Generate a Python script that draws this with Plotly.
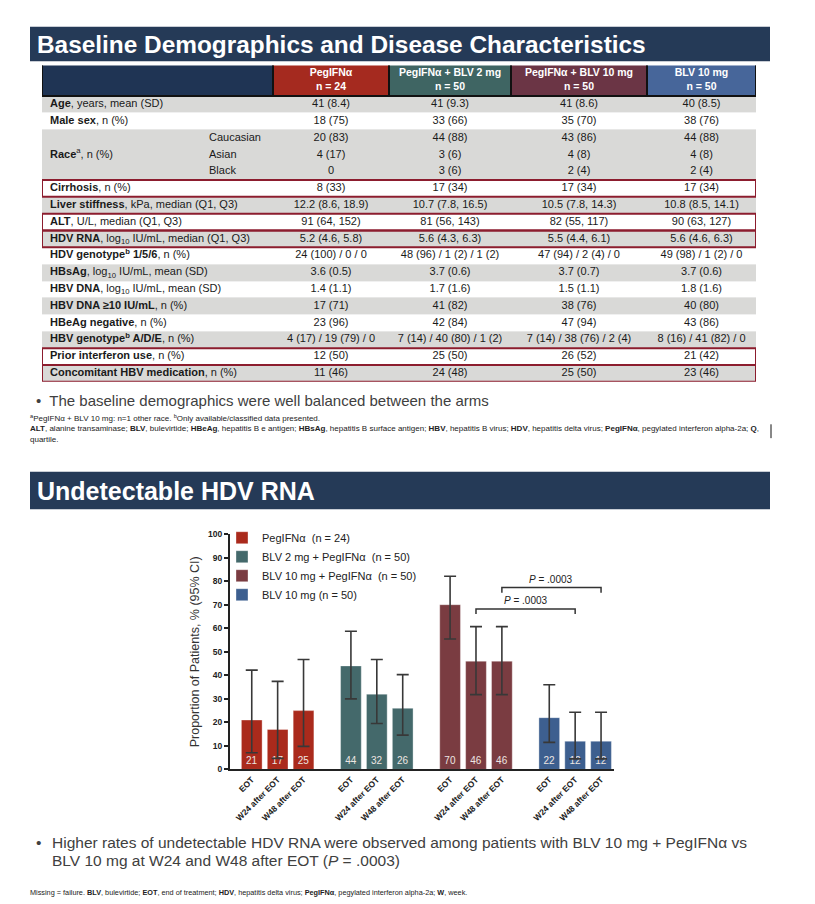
import plotly.graph_objects as go

W, H = 815, 904
FONT = "Liberation Sans, Arial, Helvetica, sans-serif"


def fx(x):
    return x / W


def fy(y):
    return 1 - y / H


# ======================= TABLE DATA =======================
arm_headers = ["PegIFNα", "PegIFNα + BLV 2 mg", "PegIFNα + BLV 10 mg", "BLV 10 mg"]
arm_sizes = ["n = 24", "n = 50", "n = 50", "n = 50"]

row_labels = [
    "<b>Age</b>, years, mean (SD)",
    "<b>Male sex</b>, n (%)",
    "",
    "<b>Race</b><sup>a</sup>, n (%)",
    "",
    "<b>Cirrhosis</b>, n (%)",
    "<b>Liver stiffness</b>, kPa, median (Q1, Q3)",
    "<b>ALT</b>, U/L, median (Q1, Q3)",
    "<b>HDV RNA</b>, log<sub>10</sub> IU/mL, median (Q1, Q3)",
    "<b>HDV genotype<sup>b</sup> 1/5/6</b>, n (%)",
    "<b>HBsAg</b>, log<sub>10</sub> IU/mL, mean (SD)",
    "<b>HBV DNA</b>, log<sub>10</sub> IU/mL, mean (SD)",
    "<b>HBV DNA ≥10 IU/mL</b>, n (%)",
    "<b>HBeAg negative</b>, n (%)",
    "<b>HBV genotype<sup>b</sup> A/D/E</b>, n (%)",
    "<b>Prior interferon use</b>, n (%)",
    "<b>Concomitant HBV medication</b>, n (%)",
]
row_sublabels = ["", "", "Caucasian", "Asian", "Black"] + [""] * 12

peg_values = [
    "41 (8.4)", "18 (75)", "20 (83)", "4 (17)", "0", "8 (33)",
    "12.2 (8.6, 18.9)", "91 (64, 152)", "5.2 (4.6, 5.8)", "24 (100) / 0 / 0",
    "3.6 (0.5)", "1.4 (1.1)", "17 (71)", "23 (96)", "4 (17) / 19 (79) / 0",
    "12 (50)", "11 (46)",
]
blv2_peg_values = [
    "41 (9.3)", "33 (66)", "44 (88)", "3 (6)", "3 (6)", "17 (34)",
    "10.7 (7.8, 16.5)", "81 (56, 143)", "5.6 (4.3, 6.3)", "48 (96) / 1 (2) / 1 (2)",
    "3.7 (0.6)", "1.7 (1.6)", "41 (82)", "42 (84)", "7 (14) / 40 (80) / 1 (2)",
    "25 (50)", "24 (48)",
]
blv10_peg_values = [
    "41 (8.6)", "35 (70)", "43 (86)", "4 (8)", "2 (4)", "17 (34)",
    "10.5 (7.8, 14.3)", "82 (55, 117)", "5.5 (4.4, 6.1)", "47 (94) / 2 (4) / 0",
    "3.7 (0.7)", "1.5 (1.1)", "38 (76)", "47 (94)", "7 (14) / 38 (76) / 2 (4)",
    "26 (52)", "25 (50)",
]
blv10_values = [
    "40 (8.5)", "38 (76)", "44 (88)", "4 (8)", "2 (4)", "17 (34)",
    "10.8 (8.5, 14.1)", "90 (63, 127)", "5.6 (4.6, 6.3)", "49 (98) / 1 (2) / 0",
    "3.7 (0.6)", "1.8 (1.6)", "40 (80)", "43 (86)", "8 (16) / 41 (82) / 0",
    "21 (42)", "23 (46)",
]

# ======================= CHART DATA =======================
timepoints = ["EOT", "W24 after EOT", "W48 after EOT"]
arm_legend = [
    "PegIFNα\u00a0 (n = 24)",
    "BLV 2 mg + PegIFNα\u00a0 (n = 50)",
    "BLV 10 mg + PegIFNα\u00a0 (n = 50)",
    "BLV 10 mg (n = 50)",
]
peg_pct = [21, 17, 25]
blv2_peg_pct = [44, 32, 26]
blv10_peg_pct = [70, 46, 46]
blv10_pct = [22, 12, 12]

peg_ci_low = [7.1, 4.7, 9.8]
blv2_peg_ci_low = [30.0, 19.5, 14.6]
blv10_peg_ci_low = [55.4, 31.8, 31.8]
blv10_ci_low = [11.5, 4.5, 4.5]

peg_ci_high = [42.2, 37.4, 46.7]
blv2_peg_ci_high = [58.7, 46.7, 40.3]
blv10_peg_ci_high = [82.1, 60.7, 60.7]
blv10_ci_high = [36.0, 24.3, 24.3]

p_value_label = "<i>P</i> = .0003"

# ======================= STYLES =======================
NAVY_BANNER = "#253a57"
NAVY_HEAD = "#1f3454"
GREY_ROW = "#d9d9d7"
BOX_RED = "#8c1d2e"
head_colors = ["#a52a1f", "#3f6563", "#6b3545", "#47669a"]
bar_colors = ["#aa2a1c", "#44696b", "#7a3c41", "#3d5f8f"]

# table geometry (in page pixels, mapped through a hidden axis pair)
TX = [42, 273, 389, 511, 647, 756]
HEAD_TOP, HEAD_BOT, ROW_H = 61, 92, 17
n_rows = len(row_labels)
row_edges = [HEAD_TOP] + [HEAD_BOT + ROW_H * i for i in range(n_rows + 1)]
row_centers = [HEAD_BOT + ROW_H * i + ROW_H / 2 for i in range(n_rows)]
TABLE_BOT = row_edges[-1]
row_shade = [1, 0, 1, 1, 1, 0, 1, 0, 1, 0, 1, 0, 1, 0, 1, 0, 1]
boxed_rows = [5, 7, 8, 15, 16]

fig = go.Figure()

# ---- table background cells (heatmap on hidden axes)
palette = ["#ffffff", GREY_ROW, NAVY_HEAD] + head_colors
z = [[2, 3, 4, 5, 6]] + [[s] * 5 for s in row_shade]
cscale = [[k / (len(palette) - 1), c] for k, c in enumerate(palette)]
fig.add_trace(go.Heatmap(
    x=TX, y=row_edges, z=z, zmin=0, zmax=len(palette) - 1,
    colorscale=cscale, showscale=False, hoverinfo="skip",
    xaxis="x2", yaxis="y2",
))

col_centers = [(TX[i] + TX[i + 1]) / 2 for i in range(1, 5)]
txt_common = dict(mode="text", hoverinfo="skip", showlegend=False,
                  xaxis="x2", yaxis="y2", cliponaxis=False)


def text_column(xpos, texts, position, size=11, color="#1a1a1a"):
    keep = [(yc, t) for yc, t in zip(row_centers, texts) if t]
    fig.add_trace(go.Scatter(
        x=[xpos] * len(keep), y=[k[0] for k in keep], text=[k[1] for k in keep],
        textposition=position, textfont=dict(family=FONT, size=size, color=color),
        **txt_common))


# header text
fig.add_trace(go.Scatter(
    x=col_centers, y=[HEAD_TOP + 8.5] * 4,
    text=["<b>%s</b>" % t for t in arm_headers], textposition="middle center",
    textfont=dict(family=FONT, size=10.5, color="white"), **txt_common))
fig.add_trace(go.Scatter(
    x=col_centers, y=[HEAD_TOP + 22.5] * 4,
    text=["<b>%s</b>" % t for t in arm_sizes], textposition="middle center",
    textfont=dict(family=FONT, size=10.5, color="white"), **txt_common))

# row labels, sub-labels and values
text_column(50, row_labels, "middle right")
text_column(209, row_sublabels, "middle right")
for cx, vals in zip(col_centers, [peg_values, blv2_peg_values, blv10_peg_values, blv10_values]):
    text_column(cx, vals, "middle center")

shapes = []
# header dark frame lines
for xv in TX:
    shapes.append(dict(type="line", xref="x2", yref="y2", x0=xv, x1=xv,
                       y0=HEAD_TOP, y1=HEAD_BOT, line=dict(color="#111111", width=2)))
shapes.append(dict(type="line", xref="x2", yref="y2", x0=TX[0], x1=TX[-1],
                   y0=HEAD_BOT, y1=HEAD_BOT, line=dict(color="#111111", width=2)))
# red highlight boxes
for r in boxed_rows:
    shapes.append(dict(type="rect", xref="x2", yref="y2", x0=TX[0], x1=TX[-1],
                       y0=row_edges[r + 1], y1=row_edges[r + 2],
                       line=dict(color=BOX_RED, width=2), fillcolor="rgba(0,0,0,0)"))

# banners
shapes.append(dict(type="rect", xref="paper", yref="paper", x0=fx(30), x1=fx(770),
                   y0=fy(57), y1=fy(22), fillcolor=NAVY_BANNER, line=dict(width=0), layer="below"))
shapes.append(dict(type="rect", xref="paper", yref="paper", x0=fx(30), x1=fx(770),
                   y0=fy(510), y1=fy(472), fillcolor=NAVY_BANNER, line=dict(width=0), layer="below"))
# small vertical mark at right of footnotes
shapes.append(dict(type="line", xref="paper", yref="paper", x0=fx(771), x1=fx(771),
                   y0=fy(438), y1=fy(424), line=dict(color="#111111", width=1)))

# ======================= BAR CHART =======================
GROUP_STEP = 3.83
arm_pcts = [peg_pct, blv2_peg_pct, blv10_peg_pct, blv10_pct]
arm_lows = [peg_ci_low, blv2_peg_ci_low, blv10_peg_ci_low, blv10_ci_low]
arm_highs = [peg_ci_high, blv2_peg_ci_high, blv10_peg_ci_high, blv10_ci_high]

tickvals, ticktext = [], []
xpos_all = []
for g in range(len(arm_pcts)):
    xs = [g * GROUP_STEP + i for i in range(len(timepoints))]
    xpos_all.append(xs)
    tickvals += xs
    ticktext += timepoints

for g, (name, vals, lo, hi) in enumerate(zip(arm_legend, arm_pcts, arm_lows, arm_highs)):
    fig.add_trace(go.Bar(
        x=xpos_all[g], y=vals, name=name, width=0.8,
        marker=dict(color=bar_colors[g], line=dict(color="rgba(255,255,255,0.35)", width=1)),
        error_y=dict(type="data", symmetric=False,
                     array=[h - v for h, v in zip(hi, vals)],
                     arrayminus=[v - l for v, l in zip(vals, lo)],
                     color="#383838", thickness=1.6, width=6),
        text=[str(v) for v in vals], textposition="inside", insidetextanchor="start",
        textangle=0, insidetextfont=dict(family=FONT, size=10, color="#eee6e2"),
        hoverinfo="skip",
    ))

# significance brackets between BLV 10 mg + PegIFNα and BLV 10 mg (W24 and W48)
annotations = []
for i, (ybar, ytxt) in zip([1, 2], [(68.2, 71.6), (77.3, 80.6)]):
    xa = xpos_all[2][i]
    xb = xpos_all[3][i]
    shapes.append(dict(type="path", xref="x", yref="y",
                       path="M %f,%f L %f,%f L %f,%f L %f,%f" % (xa, ybar - 2.2, xa, ybar, xb, ybar, xb, ybar - 2.2),
                       line=dict(color="#333333", width=1.5)))
    annotations.append(dict(xref="x", yref="y", x=(xa + xb) / 2, y=ytxt, text=p_value_label,
                            showarrow=False, font=dict(family=FONT, size=10, color="#222222")))


# ======================= TEXT =======================
def note(x, y, text, size, color="#222222", yanchor="middle"):
    annotations.append(dict(xref="paper", yref="paper", x=fx(x), y=fy(y), text=text,
                            showarrow=False, xanchor="left", yanchor=yanchor, align="left",
                            font=dict(family=FONT, size=size, color=color)))


note(35, 40, "<b>Baseline Demographics and Disease Characteristics</b>", 24.4, "white")
note(34, 400, "•\u00a0 The baseline demographics were well balanced between the arms", 15, "#404040")
note(28, 418, "<sup>a</sup>PegIFNα + BLV 10 mg: n=1 other race. <sup>b</sup>Only available/classified data presented.", 8, "#222222")
note(28, 428, "<b>ALT</b>, alanine transaminase; <b>BLV</b>, bulevirtide; <b>HBeAg</b>, hepatitis B e antigen; "
              "<b>HBsAg</b>, hepatitis B surface antigen; <b>HBV</b>, hepatitis B virus; <b>HDV</b>, hepatitis delta virus; "
              "<b>PegIFNα</b>, pegylated interferon alpha-2a; <b>Q</b>,", 8, "#222222")
note(28, 439, "quartile.", 8, "#222222")
note(35, 491, "<b>Undetectable HDV RNA</b>", 25, "white")
note(34, 847, "•", 15.5, "#404040")
note(50, 847, "Higher rates of undetectable HDV RNA were observed among patients with BLV 10 mg + PegIFNα vs", 15.5, "#404040")
note(50, 865, "BLV 10 mg at W24 and W48 after EOT (<i>P</i> = .0003)", 15.5, "#404040")
note(28, 897, "Missing = failure. <b>BLV</b>, bulevirtide; <b>EOT</b>, end of treatment; <b>HDV</b>, hepatitis delta virus; "
              "<b>PegIFNα</b>, pegylated interferon alpha-2a; <b>W</b>, week.", 7.3, "#222222")

fig.update_layout(
    width=W, height=H,
    margin=dict(l=0, r=0, t=0, b=0),
    paper_bgcolor="white", plot_bgcolor="rgba(0,0,0,0)",
    font=dict(family=FONT, color="#222222"),
    barmode="overlay",
    showlegend=True,
    legend=dict(x=fx(222), y=fy(524), xanchor="left", yanchor="top",
                bgcolor="rgba(0,0,0,0)", font=dict(family=FONT, size=11, color="#222222"),
                traceorder="normal"),
    xaxis=dict(domain=[fx(230), fx(614)], range=[-0.84, 13.99], showgrid=False, zeroline=False,
               showline=True, linecolor="#222222", linewidth=2, ticks="",
               tickmode="array", tickvals=tickvals, ticktext=ticktext, tickangle=-45,
               tickfont=dict(family=FONT, size=8.5, color="#222222", weight="bold")),
    yaxis=dict(domain=[fy(773), fy(535)], range=[0, 100], showgrid=False, zeroline=False,
               showline=True, linecolor="#222222", linewidth=2, ticks="outside",
               ticklen=4, tickwidth=1.5, tickcolor="#222222", dtick=10,
               tickfont=dict(family=FONT, size=8.5, color="#222222", weight="bold"),
               title=dict(text="Proportion of Patients, % (95% CI)", standoff=6,
                          font=dict(family=FONT, size=12.5, color="#333333"))),
    xaxis2=dict(domain=[fx(TX[0]), fx(TX[-1])], range=[TX[0], TX[-1]], visible=False,
                fixedrange=True),
    yaxis2=dict(domain=[fy(TABLE_BOT), fy(HEAD_TOP)], range=[TABLE_BOT, HEAD_TOP], visible=False,
                fixedrange=True),
    shapes=shapes,
    annotations=annotations,
)

fig.write_html(
    "out.html",
    config={"displayModeBar": False},
    post_script="document.body.style.margin='0';document.body.style.padding='0';"
                "document.body.style.height='904px';document.body.style.overflow='hidden';"
                "document.documentElement.style.overflow='hidden';",
)
